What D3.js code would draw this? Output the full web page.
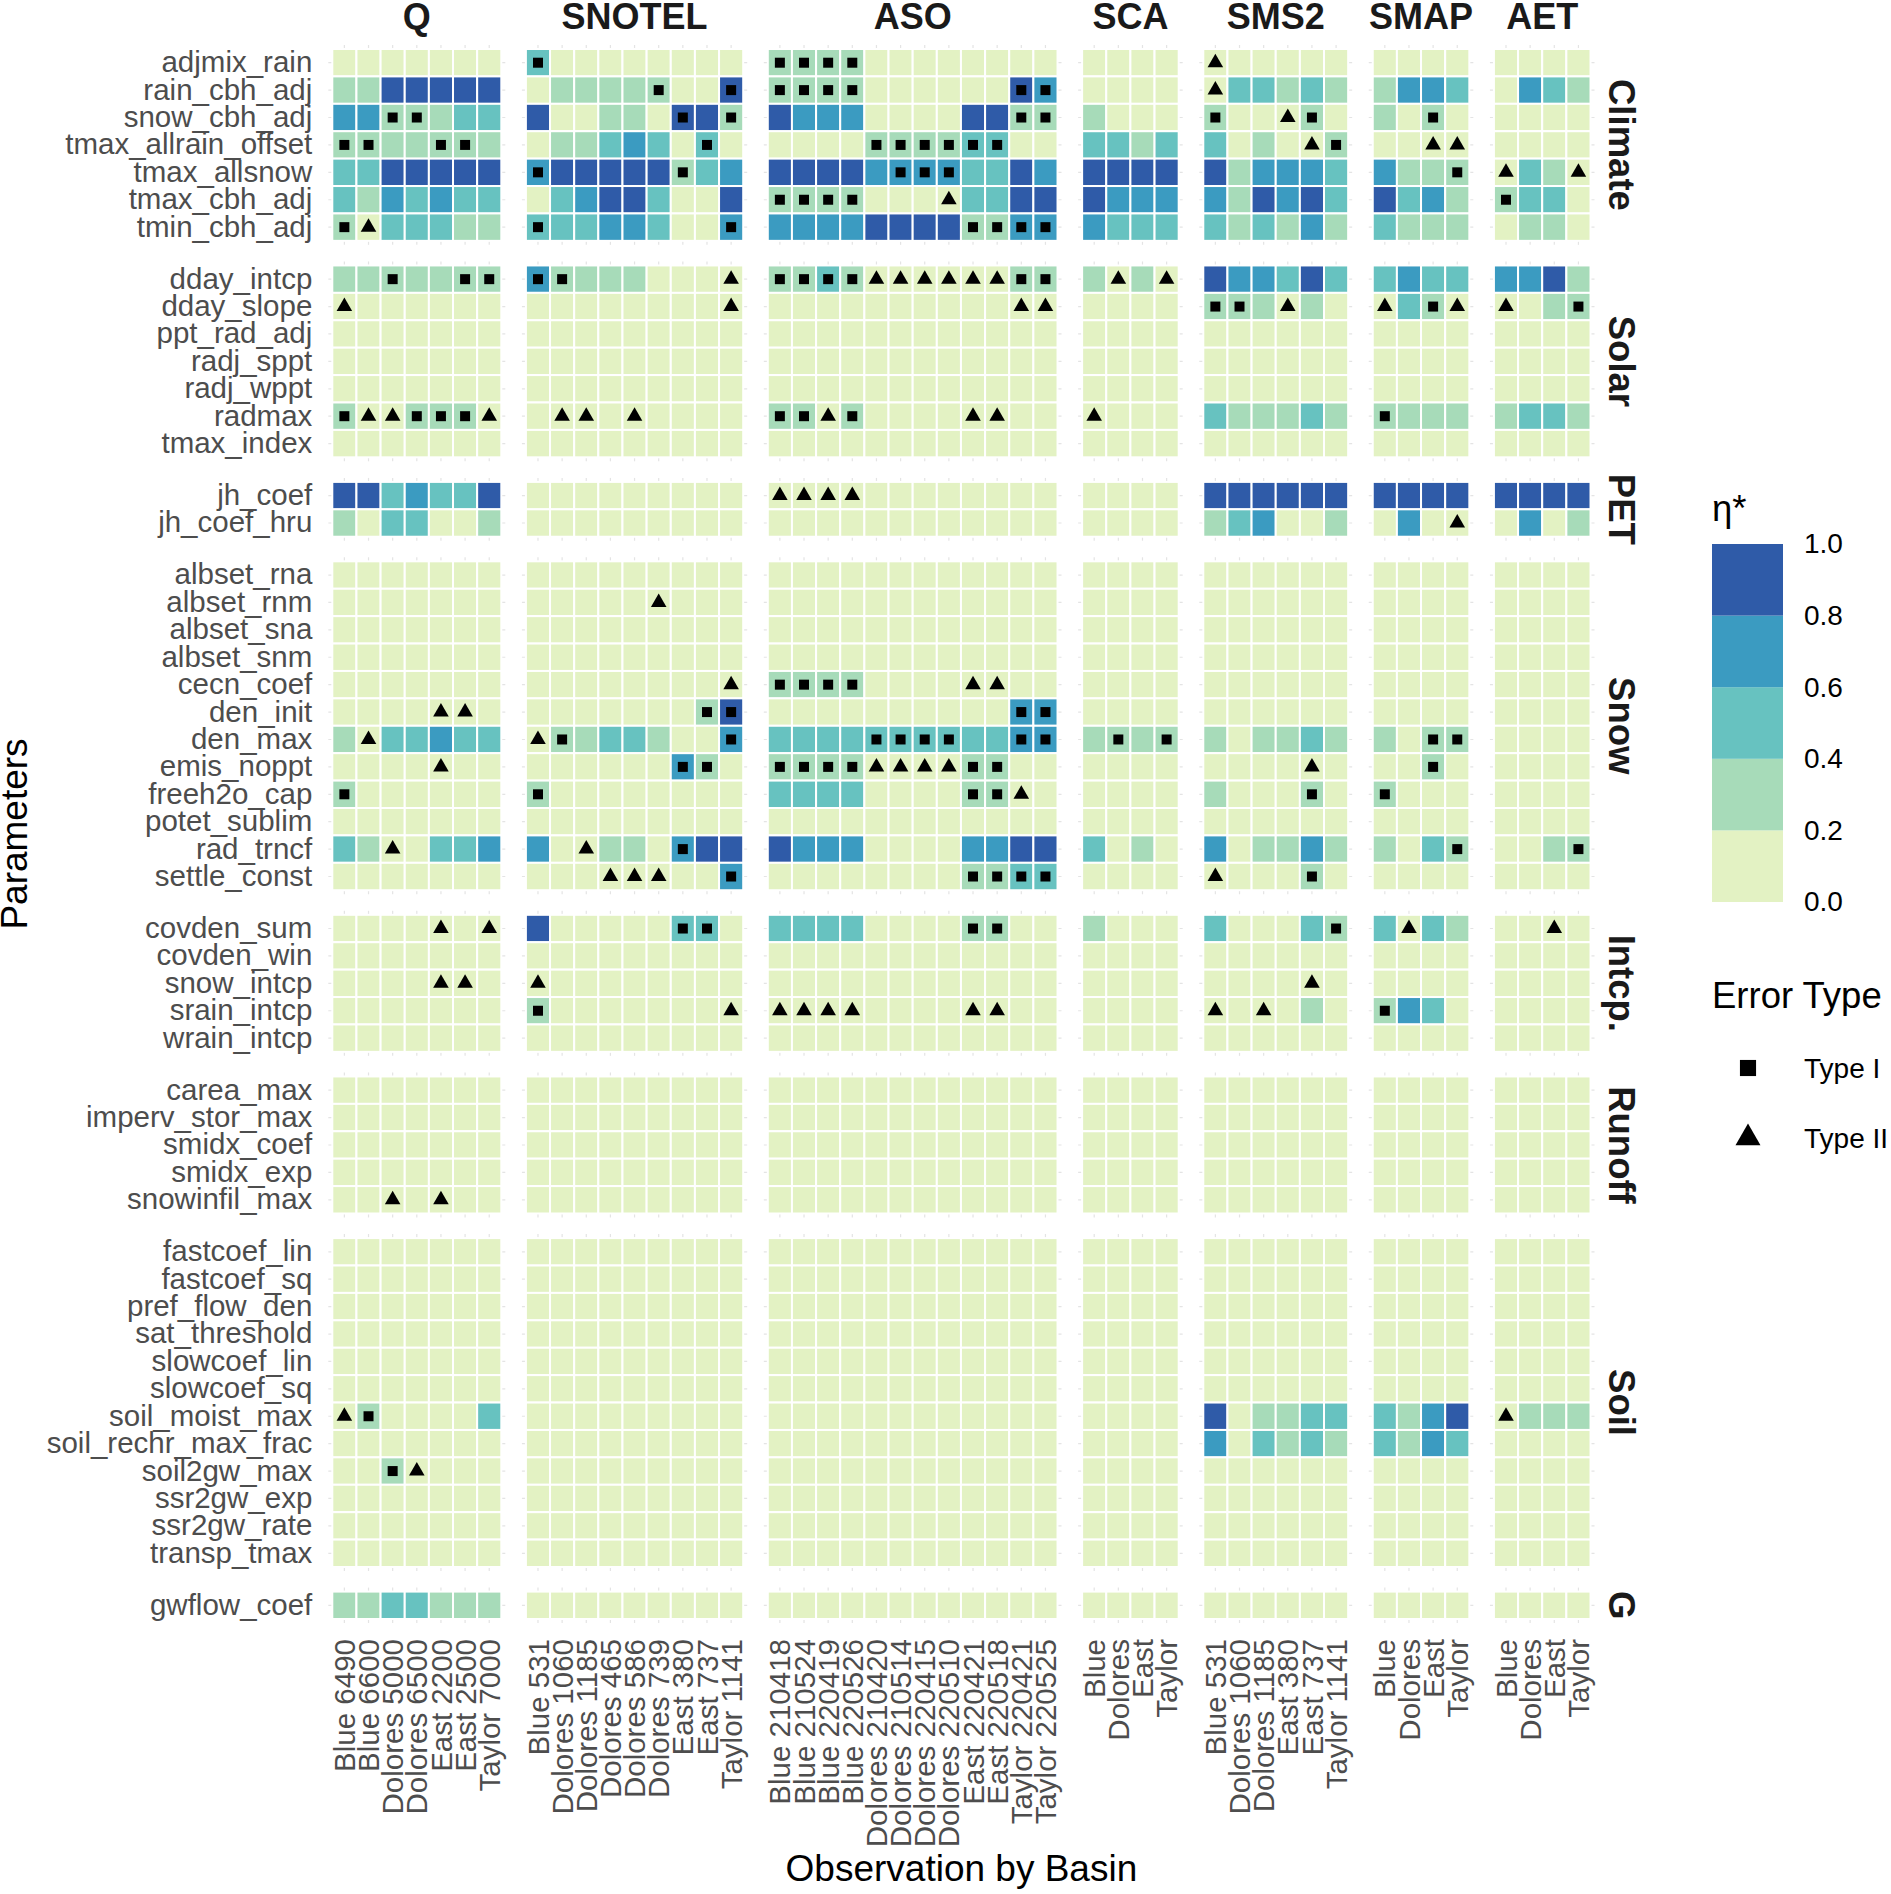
<!DOCTYPE html>
<meta charset="utf-8">
<script src="https://d3js.org/d3.v7.min.js"></script>
<style>
  body { margin: 0; background: #fff; }
  text { font-family: "Liberation Sans", Arial, sans-serif; }
</style>
<div id="chart"></div>
<script>

// column facets (observation types) and their basins
var colGroups = ["Q", "SNOTEL", "ASO", "SCA", "SMS2", "SMAP", "AET"];
var obsQ = ["Blue 6490", "Blue 6600", "Dolores 5000", "Dolores 6500", "East 2200", "East 2500", "Taylor 7000"];
var obsSNOTEL = ["Blue 531", "Dolores 1060", "Dolores 1185", "Dolores 465", "Dolores 586", "Dolores 739", "East 380", "East 737", "Taylor 1141"];
var obsASO = ["Blue 210418", "Blue 210524", "Blue 220419", "Blue 220526", "Dolores 210420", "Dolores 210514",
              "Dolores 220415", "Dolores 220510", "East 220421", "East 220518", "Taylor 220421", "Taylor 220525"];
var obsSCA = ["Blue", "Dolores", "East", "Taylor"];
var obsSMS2 = ["Blue 531", "Dolores 1060", "Dolores 1185", "East 380", "East 737", "Taylor 1141"];
var obsSMAP = ["Blue", "Dolores", "East", "Taylor"];
var obsAET = ["Blue", "Dolores", "East", "Taylor"];

// row facets (parameter groups)
var rowGroups = ["Climate", "Solar", "PET", "Snow", "Intcp.", "Runoff", "Soil", "G"];
var climateParams = ["adjmix_rain", "rain_cbh_adj", "snow_cbh_adj", "tmax_allrain_offset", "tmax_allsnow", "tmax_cbh_adj", "tmin_cbh_adj"];
var solarParams = ["dday_intcp", "dday_slope", "ppt_rad_adj", "radj_sppt", "radj_wppt", "radmax", "tmax_index"];
var petParams = ["jh_coef", "jh_coef_hru"];
var snowParams = ["albset_rna", "albset_rnm", "albset_sna", "albset_snm", "cecn_coef", "den_init", "den_max",
                  "emis_noppt", "freeh2o_cap", "potet_sublim", "rad_trncf", "settle_const"];
var intcpParams = ["covden_sum", "covden_win", "snow_intcp", "srain_intcp", "wrain_intcp"];
var runoffParams = ["carea_max", "imperv_stor_max", "smidx_coef", "smidx_exp", "snowinfil_max"];
var soilParams = ["fastcoef_lin", "fastcoef_sq", "pref_flow_den", "sat_threshold", "slowcoef_lin", "slowcoef_sq",
                  "soil_moist_max", "soil_rechr_max_frac", "soil2gw_max", "ssr2gw_exp", "ssr2gw_rate", "transp_tmax"];
var gParams = ["gwflow_coef"];

// eta* per cell, in tenths (one digit per basin, panels split by spaces: Q SNOTEL ASO SCA SMS2 SMAP AET)
var climateEta = [
  "1111111 511111111 333311111111 1111 111111 1111 1111",
  "3399999 133333119 333311111197 1111 155353 3775 1753",
  "7733355 911331993 977711119933 3111 311131 3131 1111",
  "3333333 133575151 111133335511 5535 513113 1111 1111",
  "5599999 799999357 999977775597 9999 937775 7333 1531",
  "5375755 157995119 333311115599 9777 739795 9573 3551",
  "3155533 555775117 777799993377 7555 535373 5333 1331"
];
var solarEta = [
  "3333333 733331111 335311111133 3131 977595 5755 7793",
  "1111111 111111111 111111111111 1111 333131 1531 1133",
  "1111111 111111111 111111111111 1111 111111 1111 1111",
  "1111111 111111111 111111111111 1111 111111 1111 1111",
  "1111111 111111111 111111111111 1111 111111 1111 1111",
  "3113331 111111111 331311111111 1111 533353 3333 3553",
  "1111111 111111111 111111111111 1111 111111 1111 1111"
];
var petEta = [
  "9957559 111111111 111111111111 1111 999999 9999 9999",
  "3155113 111111111 111111111111 1111 357113 1711 1713"
];
var snowEta = [
  "1111111 111111111 111111111111 1111 111111 1111 1111",
  "1111111 111111111 111111111111 1111 111111 1111 1111",
  "1111111 111111111 111111111111 1111 111111 1111 1111",
  "1111111 111111111 111111111111 1111 111111 1111 1111",
  "1111111 111111111 333311111111 1111 111111 1111 1111",
  "1111111 111111139 111111111177 1111 111111 1111 1111",
  "3155755 133553117 555555555577 3333 313353 3133 1111",
  "1111111 111111731 333311113311 1111 111111 1131 1111",
  "3111111 311111111 555511113311 1111 311131 3111 1111",
  "1111111 111111111 111111111111 1111 111111 1111 1111",
  "5311557 711331799 977711117799 5131 713373 3153 1133",
  "1111111 111111117 111111113355 1111 111131 1111 1111"
];
var intcpEta = [
  "1111111 911111551 555511113311 3111 511153 5153 1111",
  "1111111 111111111 111111111111 1111 111111 1111 1111",
  "1111111 111111111 111111111111 1111 111111 1111 1111",
  "1111111 311111111 111111111111 1111 111131 3751 1111",
  "1111111 111111111 111111111111 1111 111111 1111 1111"
];
var runoffEta = [
  "1111111 111111111 111111111111 1111 111111 1111 1111",
  "1111111 111111111 111111111111 1111 111111 1111 1111",
  "1111111 111111111 111111111111 1111 111111 1111 1111",
  "1111111 111111111 111111111111 1111 111111 1111 1111",
  "1111111 111111111 111111111111 1111 111111 1111 1111"
];
var soilEta = [
  "1111111 111111111 111111111111 1111 111111 1111 1111",
  "1111111 111111111 111111111111 1111 111111 1111 1111",
  "1111111 111111111 111111111111 1111 111111 1111 1111",
  "1111111 111111111 111111111111 1111 111111 1111 1111",
  "1111111 111111111 111111111111 1111 111111 1111 1111",
  "1111111 111111111 111111111111 1111 111111 1111 1111",
  "1311115 111111111 111111111111 1111 913355 5379 1333",
  "1111111 111111111 111111111111 1111 715353 5375 1111",
  "1131111 111111111 111111111111 1111 111111 1111 1111",
  "1111111 111111111 111111111111 1111 111111 1111 1111",
  "1111111 111111111 111111111111 1111 111111 1111 1111",
  "1111111 111111111 111111111111 1111 111111 1111 1111"
];
var gEta = [
  "3355333 111111111 111111111111 1111 111111 1111 1111"
];

// error type per cell: s = Type I, t = Type II, . = none
var climateErr = [
  "....... s........ ssss........ .... t..... .... ....",
  "....... .....s..s ssss......ss .... t..... .... ....",
  "..ss... ......s.s ..........ss .... s..ts. ..s. ....",
  "ss..ss. .......s. ....ssssss.. .... ....ts ..tt ....",
  "....... s.....s.. .....sss.... .... ...... ...s t..t",
  "....... ......... ssss...t.... .... ...... .... s...",
  "st..... s.......s ........ssss .... ...... .... ...."
];
var solarErr = [
  "..s..ss ss......t ssssttttttss .t.t ...... .... ....",
  "t...... ........t ..........tt .... ss.t.. t.st t..s",
  "....... ......... ............ .... ...... .... ....",
  "....... ......... ............ .... ...... .... ....",
  "....... ......... ............ .... ...... .... ....",
  "sttssst .tt.t.... ssts....tt.. t... ...... s... ....",
  "....... ......... ............ .... ...... .... ...."
];
var petErr = [
  "....... ......... tttt........ .... ...... .... ....",
  "....... ......... ............ .... ...... ...t ...."
];
var snowErr = [
  "....... ......... ............ .... ...... .... ....",
  "....... .....t... ............ .... ...... .... ....",
  "....... ......... ............ .... ...... .... ....",
  "....... ......... ............ .... ...... .... ....",
  "....... ........t ssss....tt.. .... ...... .... ....",
  "....tt. .......ss ..........ss .... ...... .... ....",
  ".t..... ts......s ....ssss..ss .s.s ...... ..ss ....",
  "....t.. ......ss. ssssttttss.. .... ....t. ..s. ....",
  "s...... s........ ........sst. .... ....s. s... ....",
  "....... ......... ............ .... ...... .... ....",
  "..t.... ..t...s.. ............ .... ...... ...s ...s",
  "....... ...ttt..s ........ssss .... t...s. .... ...."
];
var intcpErr = [
  "....t.t ......ss. ........ss.. .... .....s .t.. ..t.",
  "....... ......... ............ .... ...... .... ....",
  "....tt. t........ ............ .... ....t. .... ....",
  "....... s.......t tttt....tt.. .... t.t... s... ....",
  "....... ......... ............ .... ...... .... ...."
];
var runoffErr = [
  "....... ......... ............ .... ...... .... ....",
  "....... ......... ............ .... ...... .... ....",
  "....... ......... ............ .... ...... .... ....",
  "....... ......... ............ .... ...... .... ....",
  "..t.t.. ......... ............ .... ...... .... ...."
];
var soilErr = [
  "....... ......... ............ .... ...... .... ....",
  "....... ......... ............ .... ...... .... ....",
  "....... ......... ............ .... ...... .... ....",
  "....... ......... ............ .... ...... .... ....",
  "....... ......... ............ .... ...... .... ....",
  "....... ......... ............ .... ...... .... ....",
  "ts..... ......... ............ .... ...... .... t...",
  "....... ......... ............ .... ...... .... ....",
  "..st... ......... ............ .... ...... .... ....",
  "....... ......... ............ .... ...... .... ....",
  "....... ......... ............ .... ...... .... ....",
  "....... ......... ............ .... ...... .... ...."
];
var gErr = [
  "....... ......... ............ .... ...... .... ...."
];

var etaBreaks = [0, 0.2, 0.4, 0.6, 0.8, 1.0];
var etaColors = ["#e3f2c3", "#a7dbb9", "#67c2c0", "#3b9bc1", "#2f5ba8"];

var obsByGroup = [obsQ, obsSNOTEL, obsASO, obsSCA, obsSMS2, obsSMAP, obsAET];
var paramsByGroup = [climateParams, solarParams, petParams, snowParams, intcpParams, runoffParams, soilParams, gParams];
var etaByGroup = [climateEta, solarEta, petEta, snowEta, intcpEta, runoffEta, soilEta, gEta];
var errByGroup = [climateErr, solarErr, petErr, snowErr, intcpErr, runoffErr, soilErr, gErr];

// layout
var width = 1891, height = 1894;
var plot = {left: 332.3, right: 1590.5, top: 49, bottom: 1619};
var gap = 24.6;

var svg = d3.select("#chart")
  .append("svg")
    .attr("width", width)
    .attr("height", height);

svg.append("rect").attr("width", width).attr("height", height).style("fill", "#fff");

// one band scale per facet, sized by number of levels
var nCols = d3.sum(obsByGroup, function(d) { return d.length; });
var colW = (plot.right - plot.left - gap * (colGroups.length - 1)) / nCols;
var cursor = plot.left;
var xScales = obsByGroup.map(function(obs) {
  var s = d3.scaleBand().domain(obs).range([cursor, cursor + obs.length * colW]);
  cursor += obs.length * colW + gap;
  return s;
});

var nRows = d3.sum(paramsByGroup, function(d) { return d.length; });
var rowH = (plot.bottom - plot.top - gap * (rowGroups.length - 1)) / nRows;
cursor = plot.top;
var yScales = paramsByGroup.map(function(params) {
  var s = d3.scaleBand().domain(params).range([cursor, cursor + params.length * rowH]);
  cursor += params.length * rowH + gap;
  return s;
});

var color = d3.scaleThreshold()
  .domain(etaBreaks.slice(1, -1))
  .range(etaColors);

// flatten the cells
var cells = [];
rowGroups.forEach(function(rg, ri) {
  paramsByGroup[ri].forEach(function(p, pi) {
    var etaParts = etaByGroup[ri][pi].split(" ");
    var errParts = errByGroup[ri][pi].split(" ");
    colGroups.forEach(function(cg, ci) {
      obsByGroup[ci].forEach(function(o, oi) {
        cells.push({ri: ri, ci: ci, param: p, obs: o,
                    eta: +etaParts[ci][oi] / 10, err: errParts[ci][oi]});
      });
    });
  });
});

// panel grid (only peeks out around the tiles)
var ext = 4;
rowGroups.forEach(function(rg, ri) {
  colGroups.forEach(function(cg, ci) {
    var x = xScales[ci], y = yScales[ri];
    var g = svg.append("g").attr("class", "grid");
    g.selectAll(".v").data(x.domain()).enter().append("line")
      .attr("x1", function(d) { return x(d) + x.bandwidth() / 2; })
      .attr("x2", function(d) { return x(d) + x.bandwidth() / 2; })
      .attr("y1", y.range()[0] - ext).attr("y2", y.range()[1] + ext)
      .style("stroke", "#e4e4e4").style("stroke-width", 1.2);
    g.selectAll(".h").data(y.domain()).enter().append("line")
      .attr("y1", function(d) { return y(d) + y.bandwidth() / 2; })
      .attr("y2", function(d) { return y(d) + y.bandwidth() / 2; })
      .attr("x1", x.range()[0] - ext).attr("x2", x.range()[1] + ext)
      .style("stroke", "#e4e4e4").style("stroke-width", 1.2);
  });
});

// tiles
svg.append("g").selectAll("rect")
  .data(cells)
  .enter()
  .append("rect")
    .attr("x", function(d) { return xScales[d.ci](d.obs); })
    .attr("y", function(d) { return yScales[d.ri](d.param); })
    .attr("width", colW)
    .attr("height", rowH)
    .style("fill", function(d) { return color(d.eta); })
    .style("stroke", "#fff")
    .style("stroke-width", 2);

// error markers
var square = d3.symbol().type(d3.symbolSquare).size(100);
var triangle = d3.symbol().type(d3.symbolTriangle).size(105);
svg.append("g").selectAll("path")
  .data(cells.filter(function(d) { return d.err !== "."; }))
  .enter()
  .append("path")
    .attr("transform", function(d) {
      return "translate(" + (xScales[d.ci](d.obs) + colW / 2) + "," + (yScales[d.ri](d.param) + rowH / 2) + ")";
    })
    .attr("d", function(d) { return d.err === "s" ? square() : triangle(); })
    .style("fill", "#000");

// y axis labels per row facet
yScales.forEach(function(y) {
  var ax = svg.append("g")
    .attr("transform", "translate(" + plot.left + ",0)")
    .call(d3.axisLeft(y).tickSize(0).tickPadding(20));
  ax.select(".domain").remove();
  ax.selectAll("text")
    .style("font-size", "29.5px")
    .style("fill", "#4d4d4d")
    .style("font-family", "'Liberation Sans', Arial, sans-serif");
});

// x axis labels per column facet
xScales.forEach(function(x) {
  var ax = svg.append("g")
    .attr("transform", "translate(0," + plot.bottom + ")")
    .call(d3.axisBottom(x).tickSize(0));
  ax.select(".domain").remove();
  ax.selectAll("text")
    .attr("transform", "rotate(-90)")
    .attr("x", -20)
    .attr("y", 0)
    .attr("dy", "0.36em")
    .attr("text-anchor", "end")
    .style("font-size", "29.5px")
    .style("fill", "#4d4d4d")
    .style("font-family", "'Liberation Sans', Arial, sans-serif");
});

// facet strips
svg.selectAll(".colstrip")
  .data(colGroups)
  .enter()
  .append("text")
    .attr("x", function(d, i) { var r = xScales[i].range(); return (r[0] + r[1]) / 2; })
    .attr("y", 29)
    .attr("text-anchor", "middle")
    .style("font-size", "36px")
    .style("font-weight", "bold")
    .style("fill", "#1a1a1a")
    .text(function(d) { return d; });

svg.selectAll(".rowstrip")
  .data(rowGroups)
  .enter()
  .append("text")
    .attr("transform", function(d, i) {
      var r = yScales[i].range();
      return "translate(1622," + ((r[0] + r[1]) / 2) + ") rotate(90)";
    })
    .attr("text-anchor", "middle")
    .attr("dy", "0.36em")
    .style("font-size", "36.5px")
    .style("font-weight", "bold")
    .style("fill", "#1a1a1a")
    .text(function(d) { return d; });

// axis titles
svg.append("text")
  .attr("x", (plot.left + plot.right) / 2)
  .attr("y", 1881)
  .attr("text-anchor", "middle")
  .style("font-size", "37px")
  .style("fill", "#000")
  .text("Observation by Basin");

svg.append("text")
  .attr("transform", "translate(27," + ((plot.top + plot.bottom) / 2) + ") rotate(-90)")
  .attr("text-anchor", "middle")
  .style("font-size", "37px")
  .style("fill", "#000")
  .text("Parameters");

// colour legend
var legX = 1712, legW = 71;
var legY = d3.scaleLinear().domain([0, 1]).range([902, 544]);

svg.append("text")
  .attr("x", legX)
  .attr("y", 521)
  .style("font-size", "36.5px")
  .style("fill", "#000")
  .text("η*");

svg.append("g").selectAll("rect")
  .data(etaColors)
  .enter()
  .append("rect")
    .attr("x", legX)
    .attr("y", function(d, i) { return legY(etaBreaks[i + 1]); })
    .attr("width", legW)
    .attr("height", function(d, i) { return legY(etaBreaks[i]) - legY(etaBreaks[i + 1]); })
    .style("fill", function(d) { return d; });

var legAx = svg.append("g")
  .attr("transform", "translate(" + (legX + legW) + ",0)")
  .call(d3.axisRight(legY).tickValues(etaBreaks).tickFormat(d3.format(".1f")).tickSize(0).tickPadding(21));
legAx.select(".domain").remove();
legAx.selectAll("text")
  .style("font-size", "28px")
  .style("fill", "#000")
  .style("font-family", "'Liberation Sans', Arial, sans-serif");

// error type legend
svg.append("text")
  .attr("x", legX)
  .attr("y", 1008)
  .style("font-size", "36.5px")
  .style("fill", "#000")
  .text("Error Type");

var errTypes = ["Type I", "Type II"];
var errKeyY = [1068, 1138];
var legSquare = d3.symbol().type(d3.symbolSquare).size(260);
var legTriangle = d3.symbol().type(d3.symbolTriangle).size(270);

svg.append("g").selectAll("path")
  .data(errTypes)
  .enter()
  .append("path")
    .attr("transform", function(d, i) { return "translate(1748," + errKeyY[i] + ")"; })
    .attr("d", function(d, i) { return i === 0 ? legSquare() : legTriangle(); })
    .style("fill", "#000");

svg.append("g").selectAll("text")
  .data(errTypes)
  .enter()
  .append("text")
    .attr("x", 1804)
    .attr("y", function(d, i) { return errKeyY[i]; })
    .attr("dy", "0.36em")
    .style("font-size", "28px")
    .style("fill", "#000")
    .text(function(d) { return d; });

</script>
